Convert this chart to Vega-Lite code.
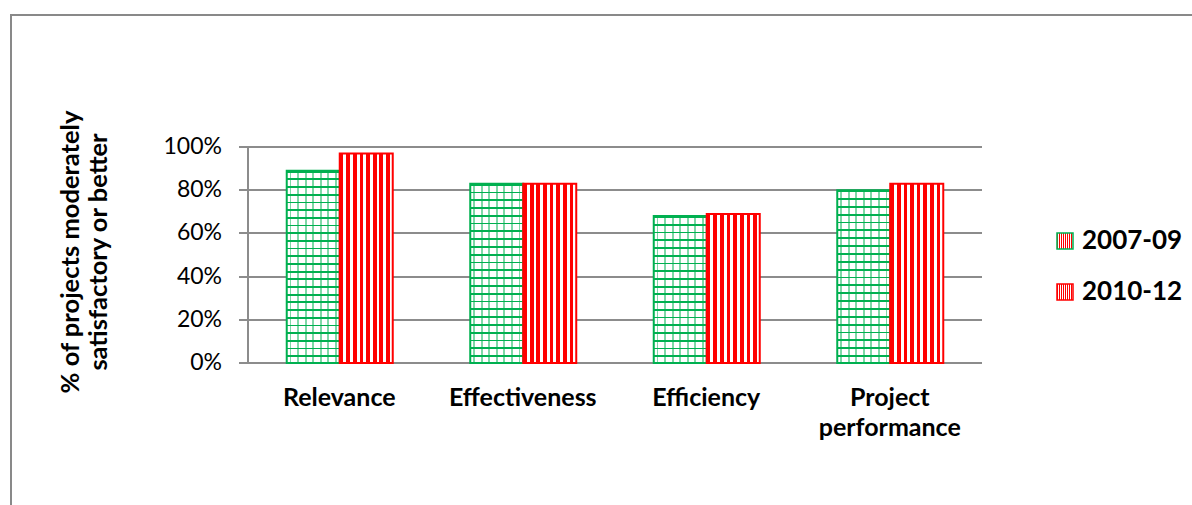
{
  "$schema": "https://vega.github.io/schema/vega-lite/v6.json",
  "width": 1181,
  "height": 490,
  "autosize": "none",
  "padding": {"left": 11, "top": 15, "right": 0, "bottom": 0},
  "background": "white",
  "config": {
    "font": "Lato",
    "view": {"stroke": "#898989", "strokeWidth": 2, "strokeDash": [1181, 1671, 490], "strokeCap": "square"},
    "axis": {"translate": 0},
    "legend": {
      "orient": "none",
      "legendX": 1041,
      "legendY": 213,
      "padding": 0,
      "symbolType": "square",
      "symbolSize": 256,
      "symbolStrokeWidth": 1.5,
      "labelFont": "Lato",
      "labelFontSize": 26,
      "labelFontWeight": "bold",
      "labelColor": "#000000",
      "labelOffset": 4,
      "rowPadding": 25
    }
  },
  "data": {
    "values": [
      {"criterion": "Relevance", "period": "2007-09", "share": 0.89},
      {"criterion": "Relevance", "period": "2010-12", "share": 0.97},
      {"criterion": "Effectiveness", "period": "2007-09", "share": 0.83},
      {"criterion": "Effectiveness", "period": "2010-12", "share": 0.83},
      {"criterion": "Efficiency", "period": "2007-09", "share": 0.68},
      {"criterion": "Efficiency", "period": "2010-12", "share": 0.69},
      {"criterion": "Project performance", "period": "2007-09", "share": 0.80},
      {"criterion": "Project performance", "period": "2010-12", "share": 0.83}
    ]
  },
  "layer": [
    {
      "mark": {"type": "bar", "strokeWidth": 2},
      "encoding": {
        "x": {
          "field": "criterion",
          "type": "nominal",
          "sort": null,
          "scale": {"range": [237, 971], "paddingInner": 0.4223, "paddingOuter": 0.2111},
          "axis": {
            "orient": "bottom",
            "offset": -142,
            "title": null,
            "domain": false,
            "ticks": false,
            "grid": false,
            "labelAngle": 0,
            "labelFont": "Lato",
            "labelFontSize": 25,
            "labelFontWeight": "bold",
            "labelColor": "#000000",
            "labelPadding": 23,
            "labelBaseline": "top",
            "labelLineHeight": 30,
            "labelExpr": "split(datum.label, ' ')"
          }
        },
        "xOffset": {
          "field": "period",
          "type": "nominal",
          "scale": {"paddingInner": 0, "paddingOuter": 0}
        },
        "y": {
          "field": "share",
          "type": "quantitative",
          "stack": null,
          "scale": {"domain": [0, 1], "range": [348, 132], "nice": false, "zero": false},
          "axis": {
            "orient": "left",
            "offset": -237,
            "values": [0, 0.2, 0.4, 0.6, 0.8, 1],
            "format": ".0%",
            "grid": true,
            "gridColor": "#8c8c8c",
            "gridWidth": 2,
            "domain": true,
            "domainColor": "#8c8c8c",
            "domainWidth": 2,
            "ticks": true,
            "tickColor": "#8c8c8c",
            "tickWidth": 2,
            "tickSize": 9,
            "labelPadding": 17,
            "labelFont": "Lato",
            "labelFontSize": 23,
            "labelColor": "#000000",
            "title": ["% of projects moderately", "satisfactory or better"],
            "titleFont": "Lato",
            "titleFontSize": 25.5,
            "titleFontWeight": "bold",
            "titleColor": "#000000",
            "titleLineHeight": 28,
            "titleAngle": -90,
            "titleBaseline": "top",
            "titleAlign": "center",
            "titleX": -189,
            "titleY": 237
          }
        },
        "y2": {"datum": 0},
        "stroke": {
          "field": "period",
          "type": "nominal",
          "scale": {"domain": ["2007-09", "2010-12"], "range": ["#00b050", "#ff0000"]},
          "legend": {
            "title": null,
            "encode": {
              "symbols": {
                "update": {
                  "fill": [
                    {
                      "test": "datum.value === '2007-09'",
                      "value": {"gradient": "linear", "x1": 0, "y1": 0, "x2": 0, "y2": 1, "stops": [
                        {"offset": 0, "color": "#fff"}, {"offset": 0.42, "color": "#fff"},
                        {"offset": 0.42, "color": "#00b050"}, {"offset": 0.58, "color": "#00b050"},
                        {"offset": 0.58, "color": "#fff"}, {"offset": 1, "color": "#fff"}
                      ]}
                    },
                    {
                      "value": {"gradient": "linear", "x1": 0, "y1": 0, "x2": 1, "y2": 0, "stops": [
                        {"offset": 0, "color": "#ff0000"}, {"offset": 0.16, "color": "#ff0000"},
                        {"offset": 0.16, "color": "#fff"}, {"offset": 0.32, "color": "#fff"},
                        {"offset": 0.32, "color": "#ff0000"}, {"offset": 0.44, "color": "#ff0000"},
                        {"offset": 0.44, "color": "#fff"}, {"offset": 0.56, "color": "#fff"},
                        {"offset": 0.56, "color": "#ff0000"}, {"offset": 0.68, "color": "#ff0000"},
                        {"offset": 0.68, "color": "#fff"}, {"offset": 0.84, "color": "#fff"},
                        {"offset": 0.84, "color": "#ff0000"}, {"offset": 1, "color": "#ff0000"}
                      ]}
                    }
                  ]
                }
              }
            }
          }
        },
        "fill": {
          "condition": [
            {
              "test": "datum.period === '2007-09' && datum.criterion === 'Relevance'",
              "value": {"gradient": "linear", "x1": 0, "y1": 0, "x2": 0, "y2": 1, "stops": [
                {"offset":0,"color":"#00b050"},{"offset":0.0094,"color":"#00b050"},{"offset":0.0094,"color":"#fff"},{"offset":0.04,"color":"#fff"},
                {"offset":0.04,"color":"#00b050"},{"offset":0.0494,"color":"#00b050"},{"offset":0.0494,"color":"#fff"},{"offset":0.08,"color":"#fff"},
                {"offset":0.08,"color":"#00b050"},{"offset":0.0894,"color":"#00b050"},{"offset":0.0894,"color":"#fff"},{"offset":0.12,"color":"#fff"},
                {"offset":0.12,"color":"#00b050"},{"offset":0.1294,"color":"#00b050"},{"offset":0.1294,"color":"#fff"},{"offset":0.16,"color":"#fff"},
                {"offset":0.16,"color":"#00b050"},{"offset":0.1694,"color":"#00b050"},{"offset":0.1694,"color":"#fff"},{"offset":0.2,"color":"#fff"},
                {"offset":0.2,"color":"#00b050"},{"offset":0.2094,"color":"#00b050"},{"offset":0.2094,"color":"#fff"},{"offset":0.24,"color":"#fff"},
                {"offset":0.24,"color":"#00b050"},{"offset":0.2494,"color":"#00b050"},{"offset":0.2494,"color":"#fff"},{"offset":0.28,"color":"#fff"},
                {"offset":0.28,"color":"#00b050"},{"offset":0.2894,"color":"#00b050"},{"offset":0.2894,"color":"#fff"},{"offset":0.32,"color":"#fff"},
                {"offset":0.32,"color":"#00b050"},{"offset":0.3294,"color":"#00b050"},{"offset":0.3294,"color":"#fff"},{"offset":0.36,"color":"#fff"},
                {"offset":0.36,"color":"#00b050"},{"offset":0.3694,"color":"#00b050"},{"offset":0.3694,"color":"#fff"},{"offset":0.4,"color":"#fff"},
                {"offset":0.4,"color":"#00b050"},{"offset":0.4094,"color":"#00b050"},{"offset":0.4094,"color":"#fff"},{"offset":0.44,"color":"#fff"},
                {"offset":0.44,"color":"#00b050"},{"offset":0.4494,"color":"#00b050"},{"offset":0.4494,"color":"#fff"},{"offset":0.48,"color":"#fff"},
                {"offset":0.48,"color":"#00b050"},{"offset":0.4894,"color":"#00b050"},{"offset":0.4894,"color":"#fff"},{"offset":0.52,"color":"#fff"},
                {"offset":0.52,"color":"#00b050"},{"offset":0.5294,"color":"#00b050"},{"offset":0.5294,"color":"#fff"},{"offset":0.56,"color":"#fff"},
                {"offset":0.56,"color":"#00b050"},{"offset":0.5694,"color":"#00b050"},{"offset":0.5694,"color":"#fff"},{"offset":0.6,"color":"#fff"},
                {"offset":0.6,"color":"#00b050"},{"offset":0.6094,"color":"#00b050"},{"offset":0.6094,"color":"#fff"},{"offset":0.64,"color":"#fff"},
                {"offset":0.64,"color":"#00b050"},{"offset":0.6494,"color":"#00b050"},{"offset":0.6494,"color":"#fff"},{"offset":0.68,"color":"#fff"},
                {"offset":0.68,"color":"#00b050"},{"offset":0.6894,"color":"#00b050"},{"offset":0.6894,"color":"#fff"},{"offset":0.72,"color":"#fff"},
                {"offset":0.72,"color":"#00b050"},{"offset":0.7294,"color":"#00b050"},{"offset":0.7294,"color":"#fff"},{"offset":0.76,"color":"#fff"},
                {"offset":0.76,"color":"#00b050"},{"offset":0.7694,"color":"#00b050"},{"offset":0.7694,"color":"#fff"},{"offset":0.8,"color":"#fff"},
                {"offset":0.8,"color":"#00b050"},{"offset":0.8094,"color":"#00b050"},{"offset":0.8094,"color":"#fff"},{"offset":0.84,"color":"#fff"},
                {"offset":0.84,"color":"#00b050"},{"offset":0.8494,"color":"#00b050"},{"offset":0.8494,"color":"#fff"},{"offset":0.88,"color":"#fff"},
                {"offset":0.88,"color":"#00b050"},{"offset":0.8894,"color":"#00b050"},{"offset":0.8894,"color":"#fff"},{"offset":0.92,"color":"#fff"},
                {"offset":0.92,"color":"#00b050"},{"offset":0.9294,"color":"#00b050"},{"offset":0.9294,"color":"#fff"},{"offset":0.96,"color":"#fff"},
                {"offset":0.96,"color":"#00b050"},{"offset":0.9694,"color":"#00b050"},{"offset":0.9694,"color":"#fff"},{"offset":1,"color":"#fff"}
              ]}
            },
            {
              "test": "datum.period === '2007-09' && datum.criterion === 'Effectiveness'",
              "value": {"gradient": "linear", "x1": 0, "y1": 0, "x2": 0, "y2": 1, "stops": [
                {"offset":0,"color":"#00b050"},{"offset":0.01,"color":"#00b050"},{"offset":0.01,"color":"#fff"},{"offset":0.0435,"color":"#fff"},
                {"offset":0.0435,"color":"#00b050"},{"offset":0.0535,"color":"#00b050"},{"offset":0.0535,"color":"#fff"},{"offset":0.087,"color":"#fff"},
                {"offset":0.087,"color":"#00b050"},{"offset":0.097,"color":"#00b050"},{"offset":0.097,"color":"#fff"},{"offset":0.1304,"color":"#fff"},
                {"offset":0.1304,"color":"#00b050"},{"offset":0.1404,"color":"#00b050"},{"offset":0.1404,"color":"#fff"},{"offset":0.1739,"color":"#fff"},
                {"offset":0.1739,"color":"#00b050"},{"offset":0.1839,"color":"#00b050"},{"offset":0.1839,"color":"#fff"},{"offset":0.2174,"color":"#fff"},
                {"offset":0.2174,"color":"#00b050"},{"offset":0.2274,"color":"#00b050"},{"offset":0.2274,"color":"#fff"},{"offset":0.2609,"color":"#fff"},
                {"offset":0.2609,"color":"#00b050"},{"offset":0.2709,"color":"#00b050"},{"offset":0.2709,"color":"#fff"},{"offset":0.3043,"color":"#fff"},
                {"offset":0.3043,"color":"#00b050"},{"offset":0.3143,"color":"#00b050"},{"offset":0.3143,"color":"#fff"},{"offset":0.3478,"color":"#fff"},
                {"offset":0.3478,"color":"#00b050"},{"offset":0.3578,"color":"#00b050"},{"offset":0.3578,"color":"#fff"},{"offset":0.3913,"color":"#fff"},
                {"offset":0.3913,"color":"#00b050"},{"offset":0.4013,"color":"#00b050"},{"offset":0.4013,"color":"#fff"},{"offset":0.4348,"color":"#fff"},
                {"offset":0.4348,"color":"#00b050"},{"offset":0.4448,"color":"#00b050"},{"offset":0.4448,"color":"#fff"},{"offset":0.4783,"color":"#fff"},
                {"offset":0.4783,"color":"#00b050"},{"offset":0.4883,"color":"#00b050"},{"offset":0.4883,"color":"#fff"},{"offset":0.5217,"color":"#fff"},
                {"offset":0.5217,"color":"#00b050"},{"offset":0.5317,"color":"#00b050"},{"offset":0.5317,"color":"#fff"},{"offset":0.5652,"color":"#fff"},
                {"offset":0.5652,"color":"#00b050"},{"offset":0.5752,"color":"#00b050"},{"offset":0.5752,"color":"#fff"},{"offset":0.6087,"color":"#fff"},
                {"offset":0.6087,"color":"#00b050"},{"offset":0.6187,"color":"#00b050"},{"offset":0.6187,"color":"#fff"},{"offset":0.6522,"color":"#fff"},
                {"offset":0.6522,"color":"#00b050"},{"offset":0.6622,"color":"#00b050"},{"offset":0.6622,"color":"#fff"},{"offset":0.6957,"color":"#fff"},
                {"offset":0.6957,"color":"#00b050"},{"offset":0.7057,"color":"#00b050"},{"offset":0.7057,"color":"#fff"},{"offset":0.7391,"color":"#fff"},
                {"offset":0.7391,"color":"#00b050"},{"offset":0.7491,"color":"#00b050"},{"offset":0.7491,"color":"#fff"},{"offset":0.7826,"color":"#fff"},
                {"offset":0.7826,"color":"#00b050"},{"offset":0.7926,"color":"#00b050"},{"offset":0.7926,"color":"#fff"},{"offset":0.8261,"color":"#fff"},
                {"offset":0.8261,"color":"#00b050"},{"offset":0.8361,"color":"#00b050"},{"offset":0.8361,"color":"#fff"},{"offset":0.8696,"color":"#fff"},
                {"offset":0.8696,"color":"#00b050"},{"offset":0.8796,"color":"#00b050"},{"offset":0.8796,"color":"#fff"},{"offset":0.913,"color":"#fff"},
                {"offset":0.913,"color":"#00b050"},{"offset":0.923,"color":"#00b050"},{"offset":0.923,"color":"#fff"},{"offset":0.9565,"color":"#fff"},
                {"offset":0.9565,"color":"#00b050"},{"offset":0.9665,"color":"#00b050"},{"offset":0.9665,"color":"#fff"},{"offset":1,"color":"#fff"}
              ]}
            },
            {
              "test": "datum.period === '2007-09' && datum.criterion === 'Efficiency'",
              "value": {"gradient": "linear", "x1": 0, "y1": 0, "x2": 0, "y2": 1, "stops": [
                {"offset":0,"color":"#00b050"},{"offset":0.0123,"color":"#00b050"},{"offset":0.0123,"color":"#fff"},{"offset":0.0526,"color":"#fff"},
                {"offset":0.0526,"color":"#00b050"},{"offset":0.0649,"color":"#00b050"},{"offset":0.0649,"color":"#fff"},{"offset":0.1053,"color":"#fff"},
                {"offset":0.1053,"color":"#00b050"},{"offset":0.1176,"color":"#00b050"},{"offset":0.1176,"color":"#fff"},{"offset":0.1579,"color":"#fff"},
                {"offset":0.1579,"color":"#00b050"},{"offset":0.1702,"color":"#00b050"},{"offset":0.1702,"color":"#fff"},{"offset":0.2105,"color":"#fff"},
                {"offset":0.2105,"color":"#00b050"},{"offset":0.2228,"color":"#00b050"},{"offset":0.2228,"color":"#fff"},{"offset":0.2632,"color":"#fff"},
                {"offset":0.2632,"color":"#00b050"},{"offset":0.2755,"color":"#00b050"},{"offset":0.2755,"color":"#fff"},{"offset":0.3158,"color":"#fff"},
                {"offset":0.3158,"color":"#00b050"},{"offset":0.3281,"color":"#00b050"},{"offset":0.3281,"color":"#fff"},{"offset":0.3684,"color":"#fff"},
                {"offset":0.3684,"color":"#00b050"},{"offset":0.3807,"color":"#00b050"},{"offset":0.3807,"color":"#fff"},{"offset":0.4211,"color":"#fff"},
                {"offset":0.4211,"color":"#00b050"},{"offset":0.4334,"color":"#00b050"},{"offset":0.4334,"color":"#fff"},{"offset":0.4737,"color":"#fff"},
                {"offset":0.4737,"color":"#00b050"},{"offset":0.486,"color":"#00b050"},{"offset":0.486,"color":"#fff"},{"offset":0.5263,"color":"#fff"},
                {"offset":0.5263,"color":"#00b050"},{"offset":0.5386,"color":"#00b050"},{"offset":0.5386,"color":"#fff"},{"offset":0.5789,"color":"#fff"},
                {"offset":0.5789,"color":"#00b050"},{"offset":0.5912,"color":"#00b050"},{"offset":0.5912,"color":"#fff"},{"offset":0.6316,"color":"#fff"},
                {"offset":0.6316,"color":"#00b050"},{"offset":0.6439,"color":"#00b050"},{"offset":0.6439,"color":"#fff"},{"offset":0.6842,"color":"#fff"},
                {"offset":0.6842,"color":"#00b050"},{"offset":0.6965,"color":"#00b050"},{"offset":0.6965,"color":"#fff"},{"offset":0.7368,"color":"#fff"},
                {"offset":0.7368,"color":"#00b050"},{"offset":0.7491,"color":"#00b050"},{"offset":0.7491,"color":"#fff"},{"offset":0.7895,"color":"#fff"},
                {"offset":0.7895,"color":"#00b050"},{"offset":0.8018,"color":"#00b050"},{"offset":0.8018,"color":"#fff"},{"offset":0.8421,"color":"#fff"},
                {"offset":0.8421,"color":"#00b050"},{"offset":0.8544,"color":"#00b050"},{"offset":0.8544,"color":"#fff"},{"offset":0.8947,"color":"#fff"},
                {"offset":0.8947,"color":"#00b050"},{"offset":0.907,"color":"#00b050"},{"offset":0.907,"color":"#fff"},{"offset":0.9474,"color":"#fff"},
                {"offset":0.9474,"color":"#00b050"},{"offset":0.9597,"color":"#00b050"},{"offset":0.9597,"color":"#fff"},{"offset":1,"color":"#fff"}
              ]}
            },
            {
              "test": "datum.period === '2007-09'",
              "value": {"gradient": "linear", "x1": 0, "y1": 0, "x2": 0, "y2": 1, "stops": [
                {"offset":0,"color":"#00b050"},{"offset":0.0104,"color":"#00b050"},{"offset":0.0104,"color":"#fff"},{"offset":0.0455,"color":"#fff"},
                {"offset":0.0455,"color":"#00b050"},{"offset":0.0559,"color":"#00b050"},{"offset":0.0559,"color":"#fff"},{"offset":0.0909,"color":"#fff"},
                {"offset":0.0909,"color":"#00b050"},{"offset":0.1013,"color":"#00b050"},{"offset":0.1013,"color":"#fff"},{"offset":0.1364,"color":"#fff"},
                {"offset":0.1364,"color":"#00b050"},{"offset":0.1468,"color":"#00b050"},{"offset":0.1468,"color":"#fff"},{"offset":0.1818,"color":"#fff"},
                {"offset":0.1818,"color":"#00b050"},{"offset":0.1922,"color":"#00b050"},{"offset":0.1922,"color":"#fff"},{"offset":0.2273,"color":"#fff"},
                {"offset":0.2273,"color":"#00b050"},{"offset":0.2377,"color":"#00b050"},{"offset":0.2377,"color":"#fff"},{"offset":0.2727,"color":"#fff"},
                {"offset":0.2727,"color":"#00b050"},{"offset":0.2831,"color":"#00b050"},{"offset":0.2831,"color":"#fff"},{"offset":0.3182,"color":"#fff"},
                {"offset":0.3182,"color":"#00b050"},{"offset":0.3286,"color":"#00b050"},{"offset":0.3286,"color":"#fff"},{"offset":0.3636,"color":"#fff"},
                {"offset":0.3636,"color":"#00b050"},{"offset":0.374,"color":"#00b050"},{"offset":0.374,"color":"#fff"},{"offset":0.4091,"color":"#fff"},
                {"offset":0.4091,"color":"#00b050"},{"offset":0.4195,"color":"#00b050"},{"offset":0.4195,"color":"#fff"},{"offset":0.4545,"color":"#fff"},
                {"offset":0.4545,"color":"#00b050"},{"offset":0.4649,"color":"#00b050"},{"offset":0.4649,"color":"#fff"},{"offset":0.5,"color":"#fff"},
                {"offset":0.5,"color":"#00b050"},{"offset":0.5104,"color":"#00b050"},{"offset":0.5104,"color":"#fff"},{"offset":0.5455,"color":"#fff"},
                {"offset":0.5455,"color":"#00b050"},{"offset":0.5559,"color":"#00b050"},{"offset":0.5559,"color":"#fff"},{"offset":0.5909,"color":"#fff"},
                {"offset":0.5909,"color":"#00b050"},{"offset":0.6013,"color":"#00b050"},{"offset":0.6013,"color":"#fff"},{"offset":0.6364,"color":"#fff"},
                {"offset":0.6364,"color":"#00b050"},{"offset":0.6468,"color":"#00b050"},{"offset":0.6468,"color":"#fff"},{"offset":0.6818,"color":"#fff"},
                {"offset":0.6818,"color":"#00b050"},{"offset":0.6922,"color":"#00b050"},{"offset":0.6922,"color":"#fff"},{"offset":0.7273,"color":"#fff"},
                {"offset":0.7273,"color":"#00b050"},{"offset":0.7377,"color":"#00b050"},{"offset":0.7377,"color":"#fff"},{"offset":0.7727,"color":"#fff"},
                {"offset":0.7727,"color":"#00b050"},{"offset":0.7831,"color":"#00b050"},{"offset":0.7831,"color":"#fff"},{"offset":0.8182,"color":"#fff"},
                {"offset":0.8182,"color":"#00b050"},{"offset":0.8286,"color":"#00b050"},{"offset":0.8286,"color":"#fff"},{"offset":0.8636,"color":"#fff"},
                {"offset":0.8636,"color":"#00b050"},{"offset":0.874,"color":"#00b050"},{"offset":0.874,"color":"#fff"},{"offset":0.9091,"color":"#fff"},
                {"offset":0.9091,"color":"#00b050"},{"offset":0.9195,"color":"#00b050"},{"offset":0.9195,"color":"#fff"},{"offset":0.9545,"color":"#fff"},
                {"offset":0.9545,"color":"#00b050"},{"offset":0.9649,"color":"#00b050"},{"offset":0.9649,"color":"#fff"},{"offset":1,"color":"#fff"}
              ]}
            }
          ],
          "value": {"gradient": "linear", "x1": 0, "y1": 0, "x2": 1, "y2": 0, "stops": [
            {"offset":0,"color":"#ff0000"},{"offset":0.07,"color":"#ff0000"},{"offset":0.07,"color":"#fff"},{"offset":0.125,"color":"#fff"},
            {"offset":0.125,"color":"#ff0000"},{"offset":0.195,"color":"#ff0000"},{"offset":0.195,"color":"#fff"},{"offset":0.25,"color":"#fff"},
            {"offset":0.25,"color":"#ff0000"},{"offset":0.32,"color":"#ff0000"},{"offset":0.32,"color":"#fff"},{"offset":0.375,"color":"#fff"},
            {"offset":0.375,"color":"#ff0000"},{"offset":0.445,"color":"#ff0000"},{"offset":0.445,"color":"#fff"},{"offset":0.5,"color":"#fff"},
            {"offset":0.5,"color":"#ff0000"},{"offset":0.57,"color":"#ff0000"},{"offset":0.57,"color":"#fff"},{"offset":0.625,"color":"#fff"},
            {"offset":0.625,"color":"#ff0000"},{"offset":0.695,"color":"#ff0000"},{"offset":0.695,"color":"#fff"},{"offset":0.75,"color":"#fff"},
            {"offset":0.75,"color":"#ff0000"},{"offset":0.82,"color":"#ff0000"},{"offset":0.82,"color":"#fff"},{"offset":0.875,"color":"#fff"},
            {"offset":0.875,"color":"#ff0000"},{"offset":0.945,"color":"#ff0000"},{"offset":0.945,"color":"#fff"},{"offset":1,"color":"#fff"}
          ]}
        }
      }
    },
    {
      "transform": [{"filter": "datum.period === '2007-09'"}],
      "mark": {
        "type": "bar",
        "strokeWidth": 0,
        "fill": {"gradient": "linear", "x1": 0, "y1": 0, "x2": 1, "y2": 0, "stops": [
          {"offset":0,"color":"rgba(0,176,80,0)"},{"offset":0.0544,"color":"rgba(0,176,80,0)"},{"offset":0.0544,"color":"rgba(0,176,80,0.5)"},{"offset":0.0884,"color":"rgba(0,176,80,0.5)"},
          {"offset":0.0884,"color":"rgba(0,176,80,0)"},{"offset":0.1973,"color":"rgba(0,176,80,0)"},{"offset":0.1973,"color":"rgba(0,176,80,0.5)"},{"offset":0.2313,"color":"rgba(0,176,80,0.5)"},
          {"offset":0.2313,"color":"rgba(0,176,80,0)"},{"offset":0.3401,"color":"rgba(0,176,80,0)"},{"offset":0.3401,"color":"rgba(0,176,80,0.5)"},{"offset":0.3741,"color":"rgba(0,176,80,0.5)"},
          {"offset":0.3741,"color":"rgba(0,176,80,0)"},{"offset":0.483,"color":"rgba(0,176,80,0)"},{"offset":0.483,"color":"rgba(0,176,80,0.5)"},{"offset":0.517,"color":"rgba(0,176,80,0.5)"},
          {"offset":0.517,"color":"rgba(0,176,80,0)"},{"offset":0.6258,"color":"rgba(0,176,80,0)"},{"offset":0.6258,"color":"rgba(0,176,80,0.5)"},{"offset":0.6598,"color":"rgba(0,176,80,0.5)"},
          {"offset":0.6598,"color":"rgba(0,176,80,0)"},{"offset":0.7687,"color":"rgba(0,176,80,0)"},{"offset":0.7687,"color":"rgba(0,176,80,0.5)"},{"offset":0.8027,"color":"rgba(0,176,80,0.5)"},
          {"offset":0.8027,"color":"rgba(0,176,80,0)"},{"offset":0.9115,"color":"rgba(0,176,80,0)"},{"offset":0.9115,"color":"rgba(0,176,80,0.5)"},{"offset":0.9455,"color":"rgba(0,176,80,0.5)"},
          {"offset":0.9455,"color":"rgba(0,176,80,0)"},{"offset":1,"color":"rgba(0,176,80,0)"}
        ]}
      },
      "encoding": {
        "x": {"field": "criterion", "type": "nominal", "sort": null},
        "xOffset": {"field": "period", "type": "nominal"},
        "y": {"field": "share", "type": "quantitative", "stack": null},
        "y2": {"datum": 0}
      }
    }
  ]
}
